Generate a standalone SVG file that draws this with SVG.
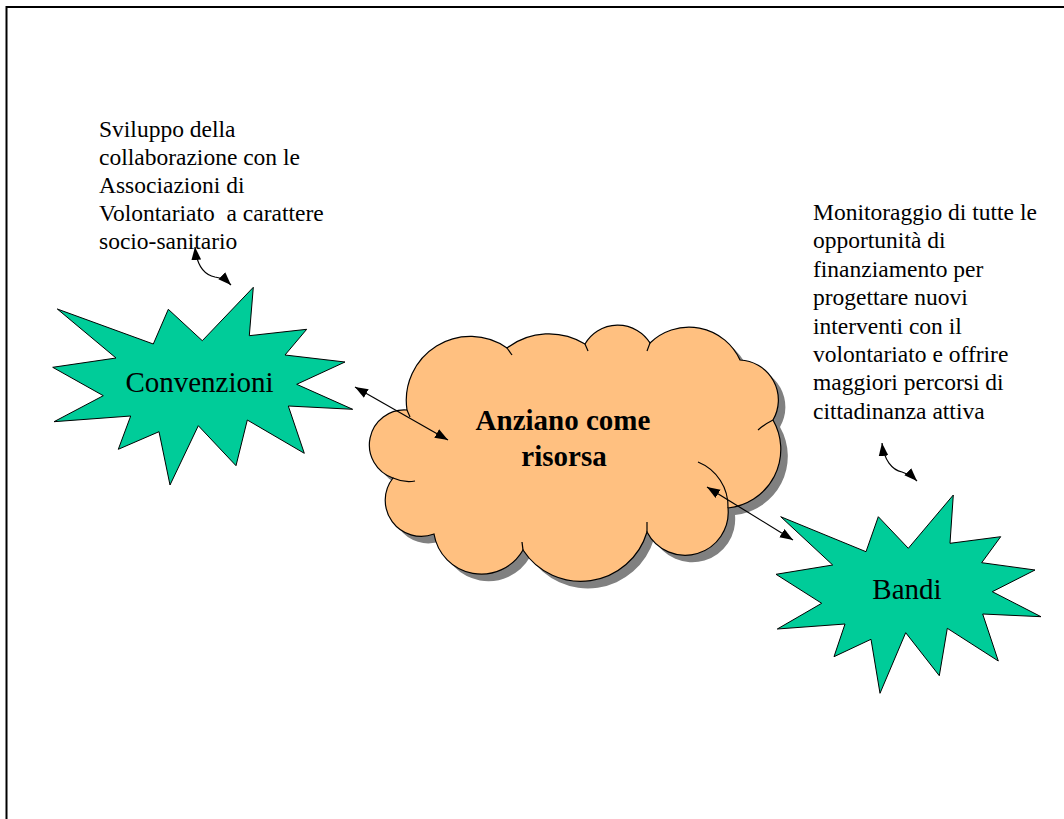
<svg xmlns="http://www.w3.org/2000/svg" width="1064" height="819" viewBox="0 0 1064 819">
  <style>
    text { font-family: "Liberation Serif", "Times New Roman", serif; fill: #000; }
    .note { font-size: 23.5px; white-space: pre; }
    .label { font-size: 29px; text-anchor: middle; }
    .title { font-size: 29px; font-weight: bold; text-anchor: middle; }
    .star { fill: #00CC99; stroke: #000; stroke-width: 1; stroke-linejoin: miter; }
    .cloud { fill: #FFC080; stroke: #000; stroke-width: 1.2; }
    .stub { fill: none; stroke: #000; stroke-width: 1.2; }
    .link { fill: none; stroke: #000; stroke-width: 1.2; marker-start: url(#head); marker-end: url(#head); }
  </style>
  <defs>
    <marker id="head" viewBox="0 0 12 9" refX="12" refY="4.5" markerUnits="userSpaceOnUse" markerWidth="13" markerHeight="10" orient="auto-start-reverse">
      <path d="M0,0 L12,4.5 L0,9 z" fill="#000"/>
    </marker>
    <path id="cloudShape" d="M 434,534 A 36 36 0 0 1 393,478 A 35 35 0 0 1 407,410 A 64 64 0 0 1 507,348 A 69 69 0 0 1 585,344 A 38 38 0 0 1 650,343 A 56 56 0 0 1 740,360 A 40 40 0 0 1 773,420 A 59 59 0 0 1 728,508 A 43 43 0 0 1 647,532 A 69 69 0 0 1 523,550 A 48 48 0 0 1 434,534 Z"/>
  </defs>

  <!-- page frame -->
  <rect x="6.5" y="7" width="1100" height="900" fill="#fff" stroke="#000" stroke-width="2"/>

  <!-- annotation texts -->
  <g id="note-convenzioni">
    <text class="note" x="99" y="137">Sviluppo della</text>
    <text class="note" x="99" y="165">collaborazione con le</text>
    <text class="note" x="99" y="193">Associazioni di</text>
    <text class="note" x="99" y="221">Volontariato  a carattere</text>
    <text class="note" x="99" y="249">socio-sanitario</text>
  </g>
  <g id="note-bandi">
    <text class="note" x="813" y="220">Monitoraggio di tutte le</text>
    <text class="note" x="813" y="248.4">opportunità di</text>
    <text class="note" x="813" y="276.8">finanziamento per</text>
    <text class="note" x="813" y="305.2">progettare nuovi</text>
    <text class="note" x="813" y="333.6">interventi con il</text>
    <text class="note" x="813" y="362">volontariato e offrire</text>
    <text class="note" x="813" y="390.4">maggiori percorsi di</text>
    <text class="note" x="813" y="418.8">cittadinanza attiva</text>
  </g>

  <!-- central cloud -->
  <g id="node-anziano">
    <use href="#cloudShape" transform="translate(7,7)" fill="#808080"/>
    <use href="#cloudShape" class="cloud"/>
    <path class="stub" d="M 393,478 Q 404,483 415,481"/>
    <path class="stub" d="M 407,410 L 410,417"/>
    <path class="stub" d="M 507,348 L 512,355"/>
    <path class="stub" d="M 585,344 L 588,351"/>
    <path class="stub" d="M 650,343 L 647,351"/>
    <path class="stub" d="M 773,420 Q 765,424 758,430"/>
    <path class="stub" d="M 698,462 A 48 48 0 0 1 728,508"/>
    <path class="stub" d="M 647,532 L 647,522"/>
    <path class="stub" d="M 523,550 L 522,542"/>
    <text class="title" x="563" y="430">Anziano come</text>
    <text class="title" x="564" y="466">risorsa</text>
  </g>

  <!-- left burst -->
  <g id="node-convenzioni">
    <polygon class="star" points="57.3,309 153.3,344 168.3,309.3 202.3,340.7 253.3,287.3 249.3,335.7 306.7,329.3 285,355 345,362 296.7,384.3 352.7,409.3 288.3,406 304.3,453.3 247.3,420 236,465.7 198.3,425.7 170,485 159,431.7 118.3,449.3 130.7,416 54,421.7 103.3,395.7 52.7,367.3 116,358"/>
    <text class="label" x="199.5" y="392">Convenzioni</text>
  </g>

  <!-- right burst -->
  <g id="node-bandi">
    <polygon class="star" points="780.7,516.7 866,551.7 878.3,516.7 908.3,548.3 953.3,495 950,543.3 1000.7,536.7 981.7,562.7 1035,570 992.3,591.7 1041,616.7 982.7,614 998.3,661 947.3,628.3 939.3,675.7 905.7,632.7 880,693.3 871,639.3 834,656.7 845,624 777.3,629 821.7,603.3 776,574.3 832.7,565"/>
    <text class="label" x="907" y="599">Bandi</text>
  </g>

  <!-- connectors -->
  <g id="connectors">
    <path class="link" d="M 355,387 L 448,440"/>
    <path class="link" d="M 707,487 L 793,540"/>
    <path class="link" d="M 195,247 C 197,268 205,275 215,277 C 222,278 226,280 231,285"/>
    <path class="link" d="M 882,443 C 884,460 892,470 902,472 C 908,474 912,476 917,481"/>
  </g>
</svg>
